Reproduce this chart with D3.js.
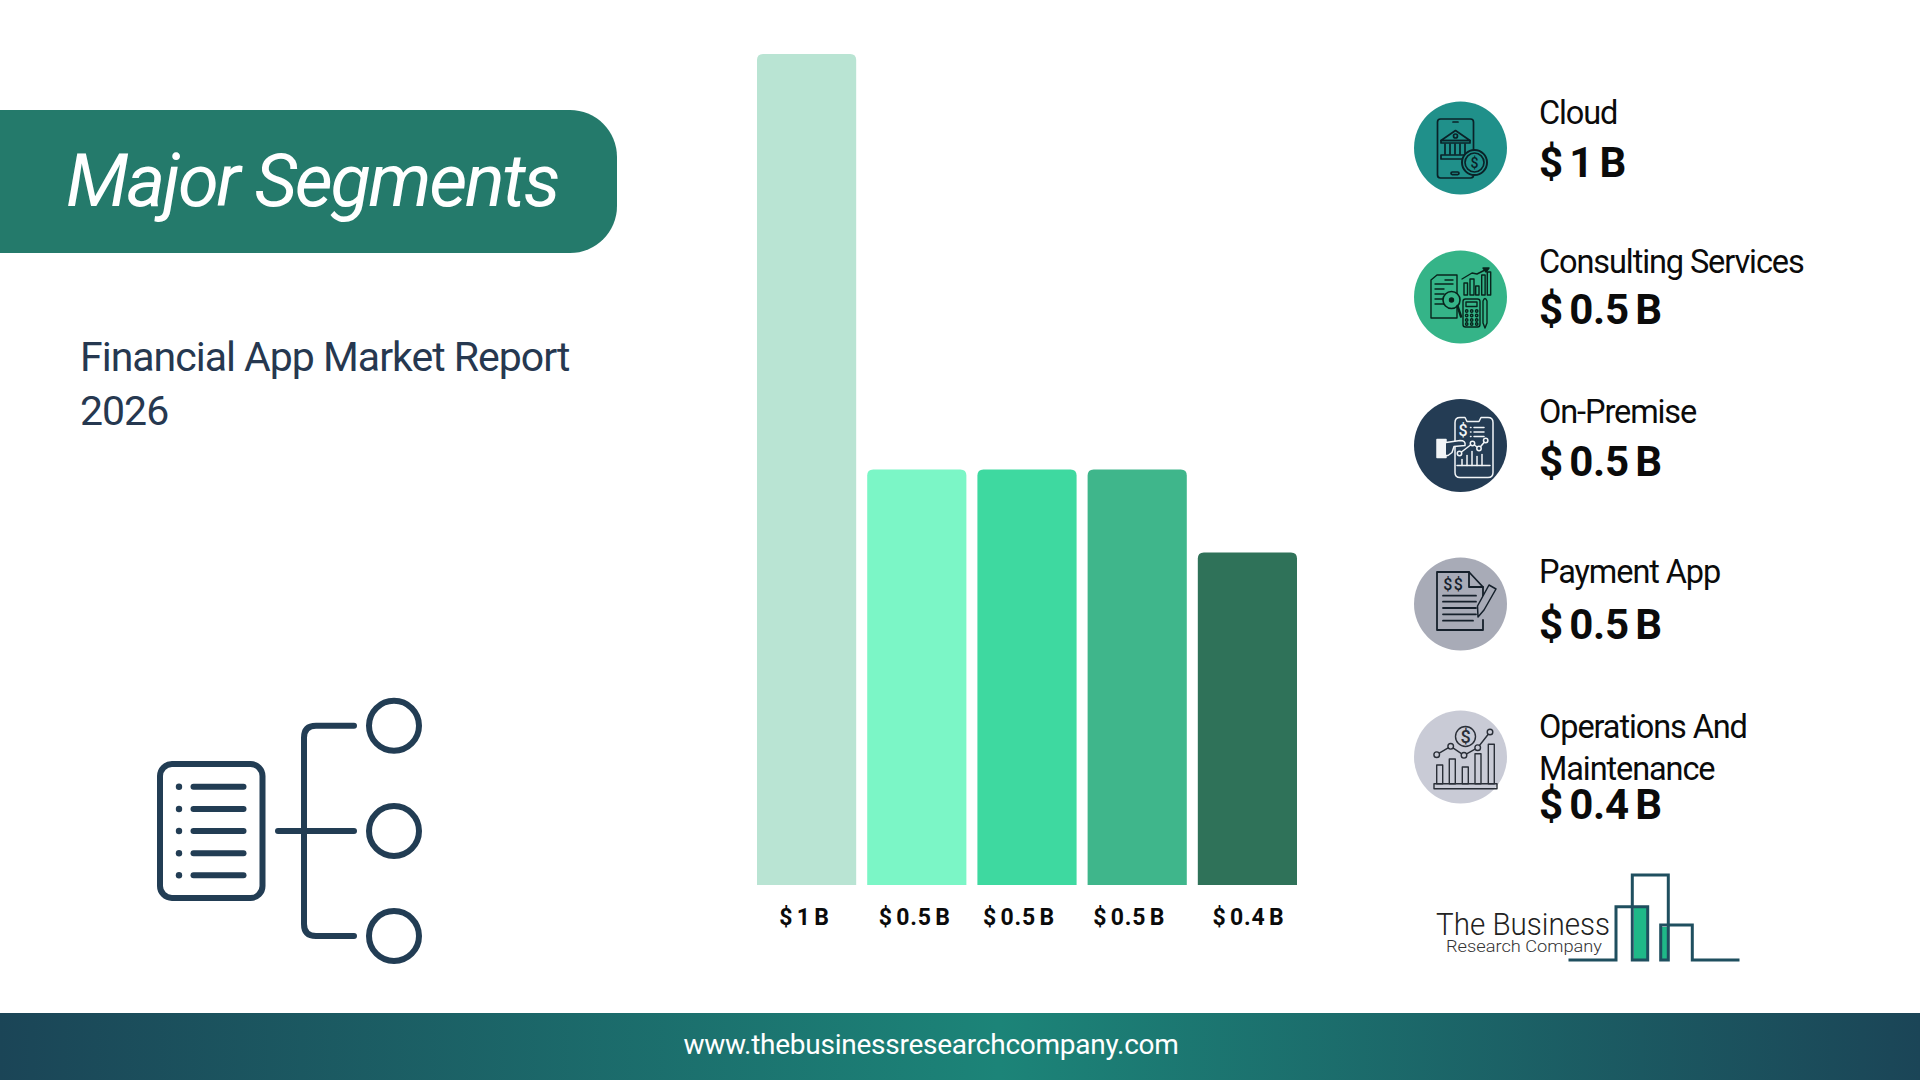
<!DOCTYPE html>
<html>
<head>
<meta charset="utf-8">
<title>Major Segments</title>
<script src="https://cdn.jsdelivr.net/npm/d3@7"></script>
<style>
  html, body { margin: 0; padding: 0; background: #fff; overflow: hidden; }
  text { font-family: Roboto, sans-serif; }
</style>
</head>
<body>
<svg id="chart" width="1920" height="1080"></svg>
<script>
// chart values
const categories = ['Cloud', 'Consulting Services', 'On-Premise', 'Payment App', 'Operations And Maintenance'];
const values = [1, 0.5, 0.5, 0.5, 0.4];
const valueLabels = ['$ 1 B', '$ 0.5 B', '$ 0.5 B', '$ 0.5 B', '$ 0.4 B'];
const barColors = ['#b9e4d3', '#7bf6c6', '#3ed9a0', '#3fb68b', '#2f7259'];
const iconColors = ['#20908a', '#35b488', '#243c54', '#a8abb7', '#c9cbd6'];

const svg = d3.select('#chart');
const defs = svg.append('defs');

//---------------------------------//
// Background pieces               //
//---------------------------------//
const footGrad = defs.append('linearGradient').attr('id', 'footGrad');
footGrad.append('stop').attr('offset', '0%').attr('stop-color', '#1b4557');
footGrad.append('stop').attr('offset', '52%').attr('stop-color', '#1c8478');
footGrad.append('stop').attr('offset', '100%').attr('stop-color', '#1b4557');

svg.append('rect').attr('x', 0).attr('y', 1013).attr('width', 1920).attr('height', 67)
    .attr('fill', 'url(#footGrad)');
svg.append('text').attr('x', 931).attr('y', 1054).attr('text-anchor', 'middle')
    .attr('font-size', 28).attr('letter-spacing', -0.25).attr('fill', '#fff')
    .text('www.thebusinessresearchcompany.com');

// title banner, rounded on the right only
svg.append('path')
    .attr('d', 'M0,110 H570 A47,47 0 0 1 617,157 V206 A47,47 0 0 1 570,253 H0 Z')
    .attr('fill', '#247a6b');
svg.append('text').attr('x', 66).attr('y', 206)
    .attr('font-size', 74).attr('font-style', 'italic').attr('font-weight', 400)
    .attr('letter-spacing', -2.3).attr('fill', '#fff')
    .text('Major Segments');

svg.append('text').attr('x', 80).attr('y', 371)
    .attr('font-size', 41).attr('letter-spacing', -1).attr('fill', '#263850')
    .text('Financial App Market Report');
svg.append('text').attr('x', 80).attr('y', 425)
    .attr('font-size', 41).attr('letter-spacing', -1).attr('fill', '#263850')
    .text('2026');

//---------------------------------//
// Outline icon, bottom left       //
//---------------------------------//
const navy = '#223d54';
const outline = svg.append('g').attr('fill', 'none').attr('stroke', navy)
    .attr('stroke-width', 6).attr('stroke-linecap', 'round');
outline.append('rect').attr('x', 160).attr('y', 764).attr('width', 102.5).attr('height', 134).attr('rx', 12);
[786.7, 809, 831, 853.3, 875.3].forEach(function(ly) {
    outline.append('circle').attr('cx', 179).attr('cy', ly).attr('r', 3.2)
        .attr('fill', navy).attr('stroke', 'none');
    outline.append('line').attr('x1', 193.5).attr('x2', 243.5).attr('y1', ly).attr('y2', ly);
});
outline.append('line').attr('x1', 278).attr('x2', 354).attr('y1', 831).attr('y2', 831);
outline.append('path').attr('d', 'M354,725.7 H316 Q304,725.7 304,737.7 V924 Q304,936 316,936 H354');
[725.7, 831, 936].forEach(function(cy) {
    outline.append('circle').attr('cx', 394).attr('cy', cy).attr('r', 25);
});

//---------------------------------//
// Bars                            //
//---------------------------------//
const x = d3.scaleBand().domain(categories).range([757, 1297]).paddingInner(0.1);
const y = d3.scaleLinear().domain([0, 1]).range([885, 54]);
const corner = 6;

svg.append('g').selectAll('path').data(categories).join('path')
    .attr('d', function(d, i) {
        const left = x(d), right = x(d) + x.bandwidth(), top = y(values[i]);
        return 'M' + left + ',' + y(0) + ' V' + (top + corner)
            + ' Q' + left + ',' + top + ' ' + (left + corner) + ',' + top
            + ' H' + (right - corner)
            + ' Q' + right + ',' + top + ' ' + right + ',' + (top + corner)
            + ' V' + y(0) + ' Z';
    })
    .attr('fill', (d, i) => barColors[i]);

// the labels under the bars are not quite centred in the original
const labelNudge = [-2, -2, -8, -8, 1];
svg.append('g').selectAll('text').data(categories).join('text')
    .attr('x', (d, i) => x(d) + x.bandwidth() / 2 + labelNudge[i])
    .attr('y', 925)
    .attr('text-anchor', 'middle')
    .attr('font-size', 23).attr('font-weight', 700).attr('letter-spacing', 0.8).attr('word-spacing', -3)
    .attr('fill', '#0b0b0b')
    .text((d, i) => valueLabels[i]);

//---------------------------------//
// Icons, 100 x 100 local units    //
//---------------------------------//
function box(g, x0, y0, w, h, r) {
    return g.append('rect').attr('x', x0).attr('y', y0).attr('width', w).attr('height', h).attr('rx', r || 0);
}
function seg(g, x1, y1, x2, y2) {
    return g.append('line').attr('x1', x1).attr('y1', y1).attr('x2', x2).attr('y2', y2);
}
function glyph(g, px, py, size, col) {
    return g.append('text').attr('x', px).attr('y', py).attr('text-anchor', 'middle')
        .attr('font-size', size).attr('font-weight', 500).attr('fill', col).attr('stroke', 'none').text('$');
}

const iconDraw = [
    function(g) { // bank in a phone
        const c = '#0a2228';
        g.attr('stroke', c).attr('stroke-width', 1.7);
        box(g, 27.5, 21, 36, 59, 3);
        seg(g, 43, 24, 48, 24);
        box(g, 41, 74, 8, 2.6, 1.3);
        g.append('path').attr('d', 'M45.5,32.5 L31,42.5 H60 Z');
        g.append('circle').attr('cx', 45.5).attr('cy', 38).attr('r', 2);
        box(g, 31, 42.5, 29, 2.5);
        [35, 40, 45, 50, 55].forEach(cx => seg(g, cx, 46, cx, 56));
        box(g, 31, 57, 27, 4);
        g.append('circle').attr('cx', 64.5).attr('cy', 64.5).attr('r', 12.5).attr('fill', '#20908a').attr('stroke-width', 2);
        g.append('circle').attr('cx', 64.5).attr('cy', 64.5).attr('r', 9.5);
        glyph(g, 64.5, 69.5, 14, c);
    },
    function(g) { // report, calculator, chart
        const c = '#08241c';
        g.attr('stroke', c).attr('stroke-width', 1.4);
        g.append('path').attr('d', 'M21,33 L27,28 H47 V71 H21 Z');
        seg(g, 35, 33, 43, 33);
        [42, 47, 52, 57].forEach(ly => seg(g, 25, ly, 34, ly));
        seg(g, 25, 37, 43, 37);
        g.append('circle').attr('cx', 41.5).attr('cy', 53).attr('r', 8.5).attr('fill', '#35b488').attr('stroke-width', 1.6);
        g.append('circle').attr('cx', 41.5).attr('cy', 53).attr('r', 2).attr('fill', c);
        seg(g, 47.5, 59, 51, 69.5).attr('stroke-width', 2.4);
        [[54, 36, 3.5, 12], [60, 32, 4, 16], [65.7, 39, 3.3, 9], [71.7, 28, 3.4, 20], [77.3, 25, 3.4, 23]]
            .forEach(b => box(g, b[0], b[1], b[2], b[3]));
        g.append('polyline').attr('points', '52,32 62,26 67,27 76,22.5');
        g.append('path').attr('d', 'M73,21 H79 L76,25 Z').attr('fill', c);
        box(g, 53, 52, 17, 28, 2.5);
        box(g, 56, 55, 11, 4.5);
        [56.7, 61.7, 66.7].forEach(kx => [64, 68.5, 73, 77].forEach(function(ky) {
            g.append('circle').attr('cx', kx).attr('cy', ky).attr('r', 1.2);
        }));
        g.append('path').attr('d', 'M73,54 Q75,49 77,54 V76 L75,81 L73,76 Z');
    },
    function(g) { // hand and phone
        const c = '#f2f5f7';
        g.attr('stroke', c).attr('stroke-width', 1.5);
        g.append('path').attr('d', 'M50,22 H55 L57,26 H69 L71,22 H78 Q83,22 83,27 V77 Q83,82 78,82 H50 Q45,82 45,77 V27 Q45,22 50,22 Z');
        glyph(g, 53, 40, 16, c);
        [32, 36.5, 41].forEach(function(ly) {
            seg(g, 60.5, ly, 61, ly);
            seg(g, 64, ly, 74, ly);
        });
        box(g, 27, 44, 9, 18).attr('fill', c);
        g.append('path').attr('d', 'M36,47 L50,45 Q56,45 55,50 L44,51 L42,57 L38,60 L36,60').attr('fill', '#243c54');
        g.append('polyline').attr('points', '49.5,58 62.5,48 69,53 75.7,45');
        [[49.5, 58], [62.5, 48], [69, 53], [75.7, 45]].forEach(function(p) {
            g.append('circle').attr('cx', p[0]).attr('cy', p[1]).attr('r', 2.2).attr('fill', '#243c54');
        });
        seg(g, 47, 70, 80, 70);
        [[52, 64], [57, 60], [62, 56], [67, 61], [72, 59]].forEach(b => seg(g, b[0], b[1], b[0], 70));
    },
    function(g) { // invoice and pencil
        const c = '#15202b';
        g.attr('stroke', c).attr('stroke-width', 1.8);
        g.append('path').attr('d', 'M73,66 V76 H27 V18 H59 L73,33 V45');
        g.append('polyline').attr('points', '59,18 59,33 73,33');
        glyph(g, 37.7, 36, 16, c);
        glyph(g, 48.3, 36, 16, c);
        [41.7, 47.7, 54, 60.3, 66.7].forEach((ly, k) => seg(g, 33, ly, k === 4 ? 63 : 66, ly));
        g.append('path').attr('d', 'M79,31 L86,35 L74,56 L68,63 L67.5,52 Z').attr('fill', '#a8abb7').attr('stroke-width', 1.5);
    },
    function(g) { // chart with coin
        const c = '#2a2f38';
        g.attr('stroke', c).attr('stroke-width', 1.4);
        g.append('circle').attr('cx', 55.5).attr('cy', 29.5).attr('r', 10);
        glyph(g, 55.5, 36, 18, c);
        const pts = [[26.7, 47.7], [40.7, 39.3], [54, 48.3], [67.7, 40.7], [80, 25]];
        g.append('polyline').attr('points', pts.map(p => p.join(',')).join(' '));
        pts.forEach(function(p) {
            g.append('circle').attr('cx', p[0]).attr('cy', p[1]).attr('r', 2.8).attr('fill', '#c9cbd6');
        });
        [[26.7, 58], [39.3, 52], [52.3, 60], [65, 46.7], [78.3, 37.3]].forEach(b => box(g, b[0], b[1], 6, 76.7 - b[1]));
        box(g, 24, 76.7, 63, 5);
    }
];

//---------------------------------//
// Legend rows                     //
//---------------------------------//
const rowCy = [148, 297, 445.5, 604, 757];
const nameY = [[124], [273], [423], [583], [738, 780]];
const valueY = [177, 324, 476, 639, 819];

const rows = svg.append('g').selectAll('g').data(categories).join('g');
rows.append('circle')
    .attr('cx', 1460.5)
    .attr('cy', (d, i) => rowCy[i])
    .attr('r', 46.5)
    .attr('fill', (d, i) => iconColors[i]);

rows.each(function(d, i) {
    const row = d3.select(this);
    const lines = i === 4 ? ['Operations And', 'Maintenance'] : [d];
    lines.forEach(function(line, j) {
        row.append('text').attr('x', 1539).attr('y', nameY[i][j])
            .attr('font-size', 32.5).attr('letter-spacing', -1.1).attr('fill', '#0b0b0b')
            .text(line);
    });
    row.append('text').attr('x', 1539).attr('y', valueY[i])
        .attr('font-size', 42).attr('font-weight', 700).attr('letter-spacing', -0.3).attr('word-spacing', -3.7).attr('fill', '#0b0b0b')
        .text(valueLabels[i]);
    const icon = row.append('g')
        .attr('transform', 'translate(1410,' + (rowCy[i] - 50) + ')')
        .attr('fill', 'none').attr('stroke-linecap', 'round').attr('stroke-linejoin', 'round');
    iconDraw[i](icon);
});

//---------------------------------//
// Company logo                    //
//---------------------------------//
const logoLine = '#1f4f5f';
svg.append('rect').attr('x', 1634).attr('y', 908).attr('width', 13).attr('height', 52).attr('fill', '#1fb888');
svg.append('rect').attr('x', 1662).attr('y', 927).attr('width', 6).attr('height', 33).attr('fill', '#1fb888');
svg.append('path')
    .attr('d', 'M1568.5,960 H1616 V906.7 H1647.7 V960 H1632.3 V875 H1668.3 V960 H1660.7 V925 H1692.3 V960 H1739.5')
    .attr('fill', 'none').attr('stroke', logoLine).attr('stroke-width', 3);
svg.append('text').attr('x', 1436).attr('y', 935)
    .attr('font-family', 'Lato, sans-serif').attr('font-size', 31).attr('font-weight', 300)
    .attr('textLength', 174).attr('lengthAdjust', 'spacingAndGlyphs').attr('fill', '#222')
    .text('The Business');
svg.append('text').attr('x', 1446).attr('y', 952)
    .attr('font-family', 'Lato, sans-serif').attr('font-size', 17).attr('font-weight', 300)
    .attr('textLength', 156).attr('lengthAdjust', 'spacingAndGlyphs').attr('fill', '#333')
    .text('Research Company');
</script>
</body>
</html>
